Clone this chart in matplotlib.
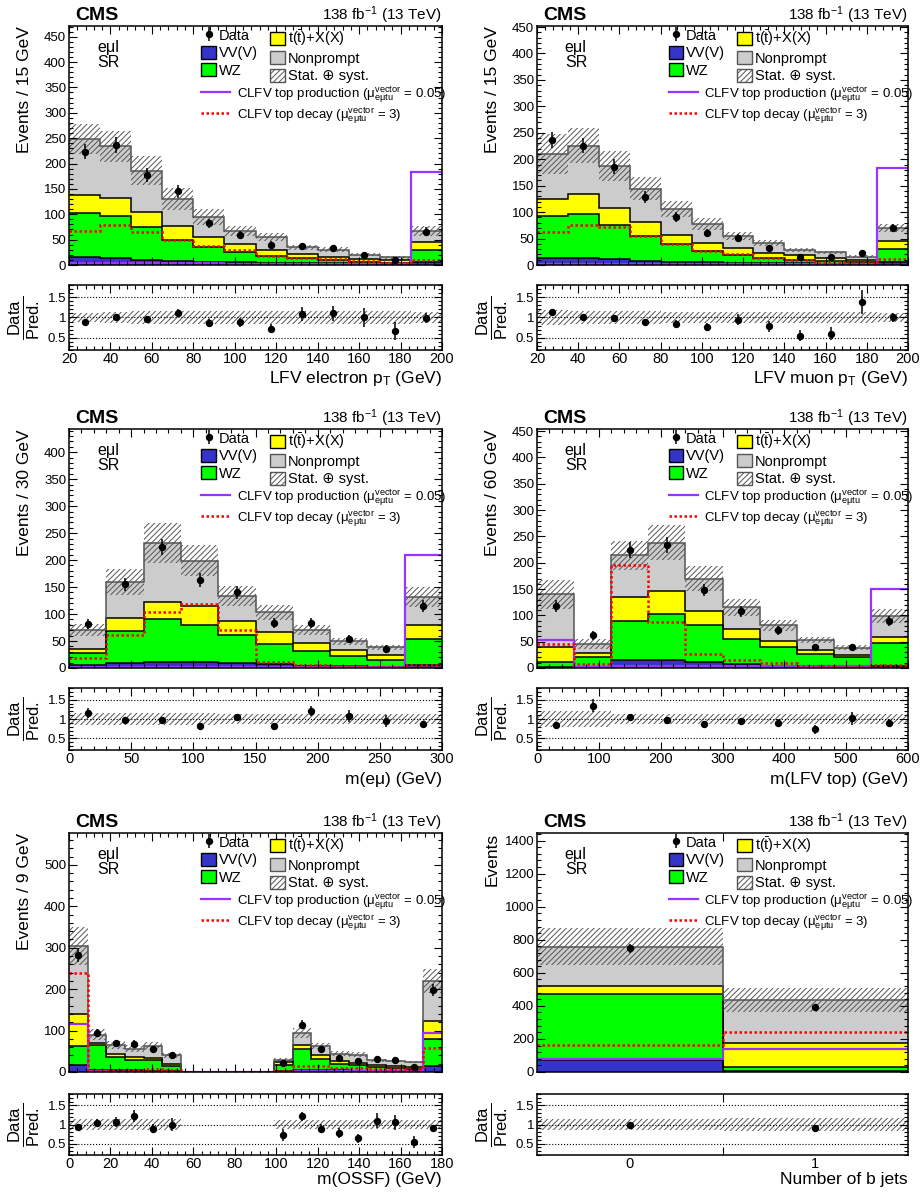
import numpy as np
import matplotlib
matplotlib.use("Agg")
import matplotlib.pyplot as plt
from matplotlib.patches import Patch
from matplotlib.lines import Line2D
from matplotlib.ticker import MultipleLocator, AutoMinorLocator, FixedLocator, FormatStrFormatter

plt.rcParams['font.family'] = ['Liberation Sans', 'DejaVu Sans']
plt.rcParams['mathtext.fontset'] = 'custom'
plt.rcParams['mathtext.rm'] = 'Liberation Sans'
plt.rcParams['mathtext.it'] = 'Liberation Sans:italic'
plt.rcParams['mathtext.bf'] = 'Liberation Sans:bold'
plt.rcParams['hatch.linewidth'] = 0.7

# ---- LFV electron pT ----
ept_edges = [20, 35, 50, 65, 80, 95, 110, 125, 140, 155, 170, 185, 200]
ept_vv = [16, 14, 10, 7, 6, 5, 4.5, 4, 3, 2.5, 2, 6]
ept_wz = [86, 83, 65, 43, 30, 21, 13.5, 9, 6, 4, 2.5, 24]
ept_ttx = [36, 36, 30, 26, 20, 15, 12, 9, 7.5, 4.5, 4.5, 16]
ept_np = [110, 101, 81, 54, 39, 26, 25, 13, 13.5, 9, 6, 21]
ept_data = [223, 236, 177, 145, 82, 59, 40, 38, 33, 20, 10, 66]
ept_decay = [67, 79, 66, 50, 37.5, 29, 18, 14.5, 11, 8, 4, 10]
ept_prod = [3, 3, 3, 3, 3, 2.5, 2.5, 2.5, 2, 2, 2, 183]
ept_unc = [0.12, 0.13, 0.15, 0.16, 0.16, 0.16, 0.15, 0.15, 0.15, 0.15, 0.15, 0.14]

# ---- LFV muon pT ----
mpt_edges = [20, 35, 50, 65, 80, 95, 110, 125, 140, 155, 170, 185, 200]
mpt_vv = [13, 12.5, 10.5, 8, 6.5, 5, 4.5, 4, 3, 2.5, 2, 5]
mpt_wz = [79, 84.5, 65.5, 47, 32.5, 21.5, 14.5, 8.5, 6.5, 5, 3, 25]
mpt_ttx = [33, 38, 31, 26, 18, 14.5, 13, 10.5, 8.5, 5.5, 4.5, 15]
mpt_np = [85, 91, 81, 63, 49, 37, 22, 18, 11, 11, 6.5, 25]
mpt_data = [237, 226, 186, 128, 90, 60, 51, 32, 16, 14.5, 22, 70]
mpt_decay = [62, 76, 71, 55, 40, 26.5, 20, 14, 9, 5, 3, 11]
mpt_prod = [2, 2, 2, 2, 2, 2, 2, 2, 2, 2, 2, 183]
mpt_unc = [0.18, 0.15, 0.15, 0.15, 0.14, 0.14, 0.14, 0.14, 0.14, 0.13, 0.13, 0.12]

# ---- m(e mu) ----
mem_edges = [0, 30, 60, 90, 120, 150, 180, 210, 240, 270, 300]
mem_vv = [5, 10, 12, 12, 9, 7, 4.5, 3, 2.5, 5]
mem_wz = [22, 58, 78, 68, 52, 38, 27.5, 19, 13, 48]
mem_ttx = [9, 24, 33, 35, 26, 22, 15, 12, 8, 26]
mem_np = [34, 68, 109, 84, 47, 36, 23, 16, 14.5, 53]
mem_data = [81, 155, 225, 163, 140, 84, 84, 54, 36, 115]
mem_decay = [18.5, 61, 104, 118, 70, 11, 5, 3, 2.5, 5.5]
mem_prod = [2, 2, 2, 2, 2, 2, 2, 2, 2, 209]
mem_unc = [0.16, 0.15, 0.16, 0.145, 0.14, 0.14, 0.13, 0.13, 0.13, 0.14]

# ---- m(LFV top) ----
mtop_edges = [0, 60, 120, 180, 240, 300, 360, 420, 480, 540, 600]
mtop_vv = [2, 2, 15, 15, 11.5, 7, 4.5, 3, 2.5, 4.5]
mtop_wz = [9.5, 18, 74, 87, 69.5, 49, 34.5, 24, 17.5, 43.5]
mtop_ttx = [28.5, 9, 45, 45, 28, 18, 12, 7, 4, 11]
mtop_np = [100, 17, 80, 91, 61, 41, 30, 19, 14.5, 39.5]
mtop_data = [118, 62, 224, 233, 148, 108, 72, 39, 39, 89]
mtop_decay = [46, 7, 196, 88, 26, 16, 9.5, 4, 2, 5]
mtop_prod = [53, 2, 3, 3, 3, 3, 3, 3, 3, 151]
mtop_unc = [0.2, 0.2, 0.13, 0.14, 0.14, 0.14, 0.13, 0.12, 0.12, 0.14]

# ---- m(OSSF) ----
moss_edges = list(range(0, 181, 9))
moss_vv = [16, 5.5, 4, 4, 3, 2.5, 0, 0, 0, 0, 0, 3, 5.5, 4, 4, 3, 3, 2.5, 2.5, 14.5]
moss_wz = [47, 59, 32, 26, 25, 12, 0, 0, 0, 0, 0, 14.5, 50.5, 28, 16, 13, 9, 8, 5.5, 64.5]
moss_ttx = [78, 6.5, 8, 6, 7, 4, 0, 0, 0, 0, 0, 6.5, 10, 8, 6, 6, 4, 4, 4, 43]
moss_np = [163, 19, 22, 20, 28, 21.5, 0, 0, 0, 0, 0, 6, 28, 23, 18, 20, 12, 12, 12, 97]
moss_data = [282, 94, 70, 68.5, 56, 40, np.nan, np.nan, np.nan, np.nan, np.nan,
             22, 114, 56, 34, 26.6, 30.6, 28, 13, 198]
moss_decay = [240, 4, 5, 5, 8, 6, 0, 0, 0, 0, 0, 2.5, 14.5, 14, 10.5, 10, 8, 8, 7, 59]
moss_prod = [115, 2, 1, 1, 1, 1, 0, 0, 0, 0, 0, 1, 2, 2, 2, 2, 2, 2, 2, 93]
moss_unc = [0.15, 0.15, 0.15, 0.15, 0.15, 0.15, 0, 0, 0, 0, 0,
            0.13, 0.12, 0.13, 0.13, 0.13, 0.13, 0.13, 0.13, 0.13]

# ---- number of b jets ----
nb_edges = [-0.5, 0.5, 1.5]
nb_vv = [70, 5]
nb_wz = [400, 25]
nb_ttx = [52, 148]
nb_np = [237, 257]
nb_data = [749, 391]
nb_decay = [162, 239]
nb_prod = [81, 142]
nb_unc = [0.15, 0.17]

c_vv = '#3434c8'
c_wz = '#00ff00'
c_tt = '#ffff00'
c_np = '#cccccc'
c_prod = '#9933ff'
c_decay = '#ff0000'
hatch = '//////'
c_hatch = '#555555'

W, H = 922, 1198
col_x = [(69, 442), (537, 908)]
main_y = [(26, 265), (429, 668), (833, 1072)]
ratio_y = [(285, 350), (688, 750), (1094, 1155)]
xlabel_gap = [19, 22, 17]

fig = plt.figure(figsize=(W / 100, H / 100), dpi=100)


def rect(xs, ys):
    return [xs[0] / W, 1 - ys[1] / H, (xs[1] - xs[0]) / W, (ys[1] - ys[0]) / H]


def style_ticks(ax):
    ax.tick_params(which='both', direction='in', top=True, right=True, width=0.8, labelsize=9.5)
    ax.tick_params(which='major', length=6)
    ax.tick_params(which='minor', length=3)
    ax.tick_params(axis='y', pad=2)
    for s in ax.spines.values():
        s.set_linewidth(1.1)


def panel(col, row, edges, vv, wz, ttx, nonp, data, decay, prod, unc,
          ymax, ymaj, xmaj, ylabel, xlabel, bjets=False):
    edges = np.array(edges, float)
    centers = 0.5 * (edges[1:] + edges[:-1])
    widths = np.diff(edges)
    data = np.array(data, float)
    unc = np.array(unc, float)

    ax = fig.add_axes(rect(col_x[col], main_y[row]))
    bottom = np.zeros(len(centers))
    tops = []
    for vals, c in [(vv, c_vv), (wz, c_wz), (ttx, c_tt), (nonp, c_np)]:
        top = bottom + np.array(vals, float)
        ax.stairs(top, edges, baseline=bottom, fill=True, color=c, lw=0)
        tops.append(top)
        bottom = top
    total = bottom
    for i, top in enumerate(tops):
        ax.stairs(top, edges, baseline=None, color='#555555' if i == 3 else 'black', lw=1.1)
    ax.bar(centers, 2 * unc * total, bottom=total * (1 - unc), width=widths,
           fill=False, hatch=hatch, edgecolor=c_hatch, linewidth=0)
    ax.stairs(prod, edges, baseline=None, color=c_prod, lw=1.6)
    ax.stairs(decay, edges, baseline=None, color=c_decay, lw=1.8, ls=(0, (1, 1)))
    eb = ax.errorbar(centers, data, yerr=np.sqrt(data), fmt='o', color='black',
                     ms=4.3, elinewidth=1.1, capsize=0)

    ax.set_xlim(edges[0], edges[-1])
    ax.set_ylim(0, ymax)
    ax.yaxis.set_major_locator(MultipleLocator(ymaj))
    ax.yaxis.set_minor_locator(AutoMinorLocator(5))
    if bjets:
        ax.xaxis.set_major_locator(FixedLocator([0, 1]))
        ax.xaxis.set_minor_locator(FixedLocator([0.5]))
    else:
        ax.xaxis.set_major_locator(MultipleLocator(xmaj))
        ax.xaxis.set_minor_locator(AutoMinorLocator(5))
    style_ticks(ax)
    if bjets:
        ax.tick_params(axis='x', which='major', length=0)
        ax.tick_params(axis='x', which='minor', length=6)
    ax.tick_params(labelbottom=False)
    ax.set_ylabel(ylabel, fontsize=12.5, loc='top')
    ax.yaxis.set_label_coords(-0.1, 1.0)

    ax.text(0.016, 1.025, 'CMS', transform=ax.transAxes, fontsize=14,
            fontweight='bold', va='baseline', ha='left')
    ax.text(1.0, 1.025, '138 fb$^{-1}$ (13 TeV)', transform=ax.transAxes,
            fontsize=11, va='baseline', ha='right')
    ax.text(0.075, 0.94, 'eμl\nSR', transform=ax.transAxes, fontsize=11.5,
            va='top', ha='left', linespacing=1.0)

    leg_kw = dict(frameon=False, fontsize=10.5, borderpad=0, borderaxespad=0,
                  handletextpad=0.2, labelspacing=0.2, handlelength=1.0, handleheight=1.0)
    l1 = ax.legend([eb, Patch(facecolor=c_vv, edgecolor='black'),
                    Patch(facecolor=c_wz, edgecolor='black')],
                   ['Data', 'VV(V)', 'WZ'], loc='upper left',
                   bbox_to_anchor=(0.355, 0.99), **leg_kw)
    ax.add_artist(l1)
    l2 = ax.legend([Patch(facecolor=c_tt, edgecolor='black'),
                    Patch(facecolor=c_np, edgecolor='#555555'),
                    Patch(facecolor='white', edgecolor=c_hatch, hatch=hatch)],
                   [r't($\bar{\rm t}$)+X(X)', 'Nonprompt', 'Stat. ⊕ syst.'],
                   loc='upper left', bbox_to_anchor=(0.54, 0.99), **leg_kw)
    ax.add_artist(l2)
    leg_kw.update(fontsize=9.5, handlelength=2.2, handletextpad=0.5, labelspacing=0.0)
    ax.legend([Line2D([], [], color=c_prod, lw=1.6),
               Line2D([], [], color=c_decay, lw=1.8, ls=(0, (1, 1)))],
              ['CLFV top production (μ$^{\\rm vector}_{\\rm eμtu}$ = 0.05)',
               'CLFV top decay (μ$^{\\rm vector}_{\\rm eμtu}$ = 3)'],
              loc='upper left', bbox_to_anchor=(0.355, 0.755), **leg_kw)

    # ratio panel
    rx = fig.add_axes(rect(col_x[col], ratio_y[row]))
    mask = total > 0
    rx.bar(centers[mask], 2 * unc[mask], bottom=1 - unc[mask], width=widths[mask],
           fill=False, hatch=hatch, edgecolor=c_hatch, linewidth=0)
    for yv in [0.5, 1.0, 1.5]:
        rx.axhline(yv, color='black', ls=':', lw=0.8)
    with np.errstate(invalid='ignore', divide='ignore'):
        ratio = np.where(mask, data / np.where(mask, total, 1), np.nan)
        rerr = np.where(mask, np.sqrt(data) / np.where(mask, total, 1), np.nan)
    rx.errorbar(centers, ratio, yerr=rerr, fmt='o', color='black', ms=4.3,
                elinewidth=1.1, capsize=0)
    rx.set_xlim(edges[0], edges[-1])
    rx.set_ylim(0.2, 1.8)
    rx.yaxis.set_major_locator(FixedLocator([0.5, 1.0, 1.5]))
    rx.yaxis.set_major_formatter(FormatStrFormatter('%g'))
    rx.yaxis.set_minor_locator(MultipleLocator(0.1))
    if bjets:
        rx.xaxis.set_major_locator(FixedLocator([0, 1]))
        rx.xaxis.set_minor_locator(FixedLocator([0.5]))
    else:
        rx.xaxis.set_major_locator(MultipleLocator(xmaj))
        rx.xaxis.set_minor_locator(AutoMinorLocator(5))
    style_ticks(rx)
    rx.tick_params(axis='x', labelsize=10.5, pad=1.5)
    rx.tick_params(axis='y', labelsize=9.5)
    if bjets:
        rx.tick_params(axis='x', which='major', length=0)
        rx.tick_params(axis='x', which='minor', length=6)
    rx.set_ylabel(r'$\frac{\rm Data}{\rm Pred.}$', fontsize=17)
    rx.yaxis.set_label_coords(-0.072, 0.5)
    rx.set_xlabel(xlabel, fontsize=12.5, loc='right')
    rh = ratio_y[row][1] - ratio_y[row][0]
    rx.xaxis.set_label_coords(1.0, -xlabel_gap[row] / rh)
    rx.xaxis.label.set_va('top')


panel(0, 0, ept_edges, ept_vv, ept_wz, ept_ttx, ept_np, ept_data, ept_decay, ept_prod,
      ept_unc, 471, 50, 20, 'Events / 15 GeV', r'LFV electron p$_{\rm T}$ (GeV)')
panel(1, 0, mpt_edges, mpt_vv, mpt_wz, mpt_ttx, mpt_np, mpt_data, mpt_decay, mpt_prod,
      mpt_unc, 452, 50, 20, 'Events / 15 GeV', r'LFV muon p$_{\rm T}$ (GeV)')
panel(0, 1, mem_edges, mem_vv, mem_wz, mem_ttx, mem_np, mem_data, mem_decay, mem_prod,
      mem_unc, 443, 50, 50, 'Events / 30 GeV', 'm(eμ) (GeV)')
panel(1, 1, mtop_edges, mtop_vv, mtop_wz, mtop_ttx, mtop_np, mtop_data, mtop_decay, mtop_prod,
      mtop_unc, 454, 50, 100, 'Events / 60 GeV', 'm(LFV top) (GeV)')
panel(0, 2, moss_edges, moss_vv, moss_wz, moss_ttx, moss_np, moss_data, moss_decay, moss_prod,
      moss_unc, 577, 100, 20, 'Events / 9 GeV', 'm(OSSF) (GeV)')
panel(1, 2, nb_edges, nb_vv, nb_wz, nb_ttx, nb_np, nb_data, nb_decay, nb_prod,
      nb_unc, 1446, 200, 1, 'Events', 'Number of b jets', bjets=True)

fig.savefig('out.png', dpi=100)
